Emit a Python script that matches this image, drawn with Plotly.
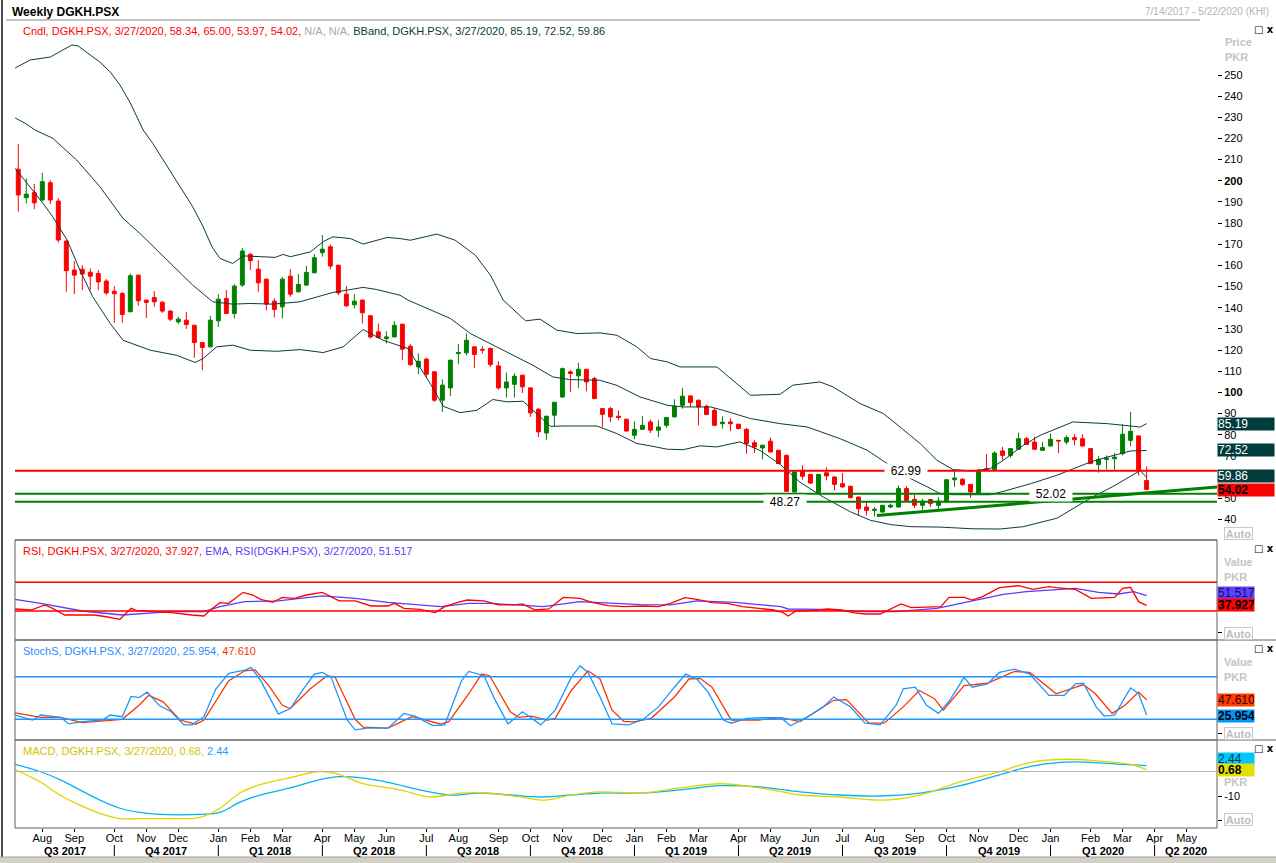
import pandas as pd
import plotly.graph_objects as go

# ------------------------------------------------------------------ data
T0 = "2017-07-14"          # first weekly bar (Friday)
SYMBOL = "DGKH.PSX"
LAST_DATE = "3/27/2020"

opens = [205.5, 192.0, 194.4, 190.9, 199.1, 190.4, 171.5, 157.8, 158.2, 156.8,
         156.2, 152.6, 147.8, 146.7, 138.1, 155.4, 143.6, 144.8, 142.6, 138.4,
         133.3, 134.1, 131.7, 123.5, 121.5, 133.8, 144.4, 137.3, 150.7, 165.2,
         158.2, 153.5, 143.1, 140.4, 154.9, 147.5, 150.7, 156.5, 166.0, 168.8,
         160.1, 146.4, 141.4, 143.6, 136.2, 128.6, 125.4, 126.2, 132.2, 121.8,
         112.0, 115.7, 109.7, 96.3, 102.1, 118.3, 118.7, 121.5, 120.3, 120.7,
         112.5, 102.1, 103.8, 108.1, 102.1, 92.0, 80.8, 89.2, 97.8, 109.7,
         107.8, 110.9, 106.5, 92.3, 92.3, 88.7, 87.3, 79.7, 82.5, 86.0,
         82.1, 84.4, 88.4, 93.9, 98.3, 96.3, 93.4, 91.5, 85.2, 86.0,
         84.9, 82.5, 76.2, 73.7, 76.9, 72.6, 70.2, 52.9, 63.1, 61.2,
         52.6, 62.0, 60.0, 56.8, 55.6, 50.5, 45.8, 44.2, 43.4, 45.8,
         45.8, 54.5, 49.4, 46.6, 49.3, 46.6, 48.2, 58.7, 58.9, 56.5,
         52.1, 63.9, 63.5, 72.3, 70.2, 73.1, 78.1, 76.5, 72.6, 74.6,
         77.3, 76.5, 78.6, 78.1, 73.4, 65.8, 68.3, 68.6, 71.0, 77.3,
         79.4, 58.34]
highs = [217.4, 201.1, 198.5, 203.8, 200.3, 191.8, 171.8, 162.0, 160.1, 158.6,
         157.8, 153.5, 150.2, 147.5, 156.2, 155.6, 143.8, 147.8, 143.1, 138.9,
         135.7, 138.1, 131.9, 123.7, 136.2, 146.4, 148.3, 151.1, 168.3, 166.0,
         162.5, 153.7, 144.4, 154.6, 158.2, 155.9, 159.8, 165.3, 174.3, 169.9,
         160.3, 150.2, 146.4, 143.8, 136.4, 132.5, 128.9, 133.6, 132.4, 122.8,
         118.4, 116.4, 109.9, 106.2, 115.4, 122.8, 127.8, 121.7, 121.8, 121.2,
         114.7, 109.4, 108.9, 108.3, 102.3, 92.6, 88.9, 95.5, 111.7, 110.5,
         113.9, 111.1, 107.3, 92.5, 93.1, 91.5, 87.5, 86.3, 88.7, 87.1,
         86.8, 88.4, 96.7, 102.1, 98.6, 96.5, 94.2, 92.6, 88.7, 87.6,
         85.2, 83.2, 77.6, 75.2, 78.6, 72.8, 70.7, 62.6, 65.5, 61.4,
         61.4, 64.4, 60.2, 61.9, 55.8, 50.7, 48.2, 45.8, 46.8, 47.4,
         56.0, 55.6, 51.6, 49.7, 49.7, 50.5, 58.9, 63.1, 59.5, 56.7,
         63.9, 70.7, 72.1, 74.2, 73.6, 81.0, 78.9, 78.9, 76.5, 80.5,
         77.5, 79.7, 80.2, 80.2, 73.6, 69.8, 70.2, 71.3, 84.9, 90.7,
         79.6, 65.00]
lows = [185.4, 189.3, 186.6, 190.5, 189.0, 170.7, 147.5, 146.4, 148.3, 148.3,
        148.3, 145.9, 132.9, 132.9, 137.8, 140.9, 135.2, 140.4, 137.6, 133.6,
        132.2, 130.0, 116.3, 110.5, 121.3, 131.0, 137.1, 134.9, 149.9, 157.8,
        147.5, 138.8, 135.4, 134.9, 145.2, 147.3, 150.5, 156.3, 164.1, 158.2,
        145.9, 140.4, 139.6, 132.5, 125.4, 125.4, 123.1, 126.0, 115.2, 112.5,
        108.6, 107.0, 95.5, 90.7, 98.3, 113.3, 117.5, 111.6, 118.3, 112.0,
        101.3, 97.5, 97.5, 99.7, 88.4, 78.9, 77.6, 84.0, 97.4, 100.2,
        102.1, 100.5, 96.7, 83.6, 86.0, 86.8, 81.5, 77.8, 82.3, 80.8,
        78.9, 83.2, 88.2, 92.3, 93.1, 84.4, 89.3, 84.2, 82.9, 81.7,
        82.4, 71.0, 71.3, 68.3, 71.6, 66.1, 53.0, 52.7, 58.7, 56.8,
        52.4, 58.4, 53.7, 54.9, 50.0, 41.8, 41.8, 41.4, 43.2, 45.3,
        45.6, 48.7, 45.3, 44.5, 45.8, 44.8, 48.0, 55.3, 55.8, 50.2,
        51.9, 63.0, 63.3, 67.9, 69.1, 72.9, 75.2, 72.9, 72.3, 74.4,
        71.3, 75.4, 75.0, 74.4, 66.1, 62.0, 63.6, 63.4, 70.2, 74.6,
        60.7, 53.97]
closes = [193.3, 193.7, 189.6, 199.6, 190.9, 172.0, 157.5, 155.4, 155.9, 154.9,
          152.2, 147.0, 146.6, 136.8, 155.1, 143.3, 142.5, 142.8, 138.4, 134.6,
          134.6, 132.1, 123.5, 121.2, 134.1, 144.0, 137.3, 150.2, 166.8, 162.2,
          151.8, 141.7, 139.2, 153.5, 146.4, 151.0, 156.7, 163.6, 167.7, 159.7,
          147.0, 140.9, 143.1, 137.6, 126.2, 125.9, 126.2, 131.7, 120.4, 113.1,
          114.7, 108.6, 96.3, 103.4, 115.2, 118.8, 124.6, 117.9, 120.0, 113.1,
          102.1, 104.9, 107.6, 102.6, 90.3, 81.3, 88.7, 95.3, 111.2, 108.9,
          110.9, 104.9, 97.1, 89.6, 88.4, 88.1, 81.7, 82.5, 84.4, 82.1,
          83.6, 88.1, 93.4, 98.2, 95.2, 93.1, 89.5, 84.4, 85.9, 85.2,
          82.9, 75.8, 74.2, 75.0, 71.8, 66.3, 53.2, 62.4, 60.3, 57.1,
          61.2, 60.5, 56.5, 55.3, 50.2, 45.0, 44.2, 44.7, 46.6, 46.6,
          54.5, 48.9, 46.6, 48.6, 47.4, 48.6, 58.7, 59.5, 56.4, 52.9,
          63.1, 63.1, 71.3, 70.2, 73.4, 78.1, 75.4, 73.1, 73.9, 77.8,
          77.0, 78.6, 77.6, 74.6, 66.3, 68.3, 69.0, 69.4, 80.2, 81.6,
          62.8, 54.02]

# Bollinger bands (week offset from T0, value)
bb_upper_weeks = [-0.4, 1.5, 4.0, 5.2, 6.7, 7.5, 9.0, 10.2, 11.5, 12.7, 14.0, 15.6, 16.8, 18.6,
                  21.8, 23.1, 24.2, 25.2, 26.8, 28.1, 32.1, 33.1, 34.0, 36.5, 38.1, 39.3, 41.5,
                  43.1, 46.1, 47.7, 49.0, 52.3, 54.6, 57.1, 59.0, 60.6, 63.4, 65.2, 67.3, 69.8,
                  72.7, 74.8, 77.3, 79.0, 81.1, 82.7, 87.3, 89.8, 91.5, 95.2, 96.8, 100.2, 101.8,
                  105.2, 108.1, 110.2, 112.7, 114.8, 116.8, 119.3, 121.5, 123.1, 125.6, 127.7,
                  131.8, 136.1, 138.6, 140.2, 141.0]
bb_upper = [253.3, 257.1, 258.5, 260.9, 264.2, 263.7, 259.5, 256.1, 251.4, 245.3, 236.8, 224.0,
            217.7, 206.7, 187.7, 178.3, 168.8, 163.3, 160.9, 164.5, 163.8, 165.2, 164.1, 166.4,
            171.2, 173.5, 172.7, 170.1, 173.2, 172.7, 171.9, 174.8, 171.9, 164.9, 155.4, 143.6,
            133.8, 134.6, 129.4, 127.8, 128.1, 127.0, 121.5, 116.0, 114.4, 112.0, 112.0, 104.1,
            98.6, 99.1, 103.4, 104.9, 102.6, 94.7, 90.0, 83.6, 75.8, 67.9, 63.5, 62.8, 64.0, 67.9,
            75.0, 79.7, 86.0, 85.2, 84.4, 83.6, 85.19]
bb_mid_weeks = [-0.4, 0.8, 2.1, 4.3, 7.3, 10.2, 13.1, 15.2, 18.6, 21.8, 24.3, 26.8, 29.0, 31.8,
                35.2, 37.3, 39.3, 41.5, 43.1, 44.8, 47.7, 48.7, 51.5, 54.0, 56.5, 59.3, 61.8,
                64.3, 66.8, 68.9, 72.7, 74.8, 77.7, 81.1, 83.1, 86.5, 88.1, 91.5, 95.2, 98.6,
                102.7, 106.1, 108.6, 111.1, 113.6, 115.2, 116.8, 121.5, 123.6, 126.5, 129.8,
                131.8, 134.0, 136.1, 139.0, 141.0]
bb_mid = [229.7, 227.3, 224.0, 220.1, 209.8, 197.2, 182.2, 175.1, 162.5, 150.7, 142.8, 141.7,
          142.0, 141.7, 142.8, 145.1, 147.2, 148.6, 149.6, 148.6, 145.9, 143.6, 138.8, 134.9,
          127.8, 122.3, 117.5, 112.8, 107.3, 106.0, 105.7, 103.3, 97.8, 93.9, 93.1, 93.1, 91.5,
          87.6, 85.2, 83.6, 78.1, 72.6, 66.3, 60.0, 55.3, 52.1, 51.6, 51.6, 53.7, 56.8, 60.8,
          63.9, 67.1, 69.4, 72.3, 72.52]
bb_lower_weeks = [-0.4, 1.8, 3.1, 4.3, 6.1, 7.7, 9.3, 11.5, 13.1, 16.5, 19.8, 22.1, 23.1, 24.8,
                  26.8, 29.0, 32.3, 35.2, 38.1, 40.6, 43.1, 45.6, 48.7, 51.5, 53.1, 55.2, 57.3,
                  59.3, 61.1, 63.1, 64.3, 66.5, 68.1, 72.3, 74.8, 77.3, 79.0, 81.1, 83.1, 85.2,
                  87.3, 90.2, 92.7, 95.2, 97.7, 100.6, 104.0, 106.5, 109.0, 111.5, 115.2, 119.3,
                  122.7, 125.6, 129.8, 134.0, 136.8, 140.2, 141.0]
bb_lower = [205.9, 195.6, 189.3, 183.0, 172.0, 157.8, 145.2, 132.5, 124.6, 119.9, 117.5, 114.1,
            116.0, 121.5, 122.3, 119.9, 119.4, 120.2, 118.8, 121.5, 129.7, 124.6, 120.7, 104.1,
            93.4, 90.4, 91.5, 96.6, 95.5, 95.8, 91.5, 83.9, 84.1, 84.1, 80.5, 75.8, 74.7, 73.1,
            72.9, 74.7, 74.2, 76.6, 72.5, 66.0, 57.5, 50.5, 43.5, 39.5, 37.5, 36.5, 36.3, 35.5,
            35.4, 36.5, 40.5, 50.0, 55.5, 63.0, 59.86]

# RSI and its EMA
rsi_weeks = [-0.4, 1.6, 3.3, 4.3, 5.8, 9.5, 11.0, 12.7, 14.1, 14.8,
             17.1, 19.1, 21.7, 23.2, 24.0, 25.2, 26.3, 28.1, 29.3, 30.3,
             31.8, 33.0, 34.5, 36.0, 38.0, 40.1, 42.1, 44.1, 46.2, 47.0,
             48.2, 50.2, 52.1, 53.3, 54.8, 56.1, 58.2, 60.0, 62.0, 63.0,
             64.6, 66.3, 68.1, 70.2, 71.7, 73.7, 75.7, 78.1, 80.0, 81.5,
             83.3, 84.8, 86.7, 88.6, 90.5, 92.5, 94.4, 95.6, 96.2, 97.2,
             99.1, 101.1, 102.9, 104.3, 105.8, 107.7, 108.7, 110.3, 111.6, 113.0,
             115.3, 116.3, 118.2, 119.2, 120.5, 122.6, 125.0, 126.8, 128.8, 129.7,
             132.1, 134.1, 137.0, 138.0, 139.0, 140.0, 141.0]
rsi = [32.8, 31.4, 38.4, 33.7, 24.4, 24.4, 22.0, 18.4, 33.7, 30.5,
       29.0, 27.7, 24.4, 23.0, 31.4, 41.6, 40.7, 56.0, 52.3, 46.3,
       42.1, 49.0, 47.7, 52.3, 56.0, 44.0, 44.0, 37.0, 37.0, 40.7,
       33.7, 32.3, 27.7, 36.0, 41.6, 45.3, 44.0, 38.4, 38.4, 39.8,
       31.4, 32.8, 49.0, 47.7, 42.1, 37.4, 36.0, 37.0, 36.0, 40.7,
       48.6, 46.3, 41.6, 40.7, 36.0, 33.7, 31.4, 27.7, 23.0, 30.0,
       30.5, 32.8, 31.4, 27.7, 25.8, 25.8, 31.4, 39.8, 34.7, 35.1,
       36.0, 49.0, 49.0, 45.3, 50.0, 62.6, 65.3, 60.2, 64.0, 62.6,
       60.2, 47.7, 49.0, 61.6, 63.0, 43.0, 37.927]
rsi_ema_weeks = [-0.4, 2.8, 8.0, 13.0, 19.1, 23.2, 25.2, 28.3, 32.5, 38.0, 42.1, 46.2, 52.8,
                 56.3, 59.0, 65.6, 70.2, 75.2, 77.7, 81.5, 84.8, 89.6, 95.3, 96.2, 100.1, 105.8,
                 109.7, 114.8, 117.8, 123.1, 126.0, 132.1, 135.0, 137.5, 139.4, 141.0]
rsi_ema = [46.3, 40.7, 30.0, 24.4, 29.0, 29.0, 36.0, 43.0, 44.0, 51.0, 47.7, 42.1, 36.0, 40.7,
           40.7, 36.0, 43.0, 40.7, 39.0, 38.4, 44.0, 42.1, 36.0, 32.8, 32.3, 29.0, 29.0, 33.7,
           40.7, 53.3, 57.0, 61.6, 56.0, 53.7, 57.0, 51.517]

# Slow stochastic
stoch_k_weeks = [-0.4, 1.8, 2.8, 5.3, 6.3, 8.0, 10.5, 11.5, 13.0, 14.1,
                 15.1, 16.1, 17.6, 19.1, 20.7, 21.7, 23.2, 24.7, 26.3, 28.3,
                 29.1, 30.3, 32.5, 34.0, 35.5, 37.0, 38.0, 39.1, 41.1, 42.1,
                 43.6, 46.2, 48.2, 49.7, 51.8, 53.3, 55.4, 56.3, 58.2, 59.5,
                 61.2, 63.0, 65.3, 67.1, 69.1, 70.2, 71.2, 72.7, 74.2, 76.3,
                 78.1, 80.0, 82.0, 83.4, 84.8, 86.2, 88.1, 89.1, 91.0, 92.9,
                 95.3, 96.5, 98.7, 100.6, 101.9, 104.0, 105.8, 107.7, 109.7, 110.6,
                 112.1, 113.5, 115.0, 116.4, 118.2, 119.2, 121.1, 122.6, 124.5, 126.4,
                 128.8, 130.7, 132.1, 133.1, 134.7, 135.7, 137.0, 139.0, 140.0, 141.0]
stoch_k = [26.0, 19.0, 26.0, 22.8, 13.5, 16.8, 19.0, 26.0, 23.7, 52.3,
           50.5, 58.3, 39.8, 30.6, 12.2, 12.2, 23.7, 62.9, 84.6, 89.2,
           92.9, 74.5, 27.4, 35.2, 60.6, 83.7, 86.0, 79.1, 19.0, 5.2,
           7.5, 7.5, 28.3, 23.7, 11.2, 12.2, 74.5, 87.4, 81.4, 49.1,
           13.5, 30.6, 12.2, 32.9, 79.1, 95.2, 86.0, 51.4, 13.5, 12.2,
           20.0, 37.5, 65.2, 83.7, 76.8, 58.3, 19.0, 14.5, 21.4, 22.3,
           22.3, 10.8, 23.7, 37.5, 51.4, 37.5, 14.5, 12.2, 39.8, 62.9,
           65.2, 39.8, 28.3, 46.8, 79.1, 65.2, 69.8, 86.0, 90.6, 83.7,
           53.7, 53.7, 69.8, 70.8, 37.5, 24.6, 26.0, 64.3, 56.0, 25.954]
stoch_d_weeks = [-0.4, 2.8, 5.3, 8.0, 13.0, 15.1, 16.3, 18.1, 20.2, 22.2,
                 23.2, 26.3, 28.3, 29.6, 31.3, 33.0, 34.0, 36.5, 38.6, 39.6,
                 42.1, 43.1, 46.2, 49.2, 50.2, 52.8, 53.8, 56.3, 57.9, 58.9,
                 61.5, 62.5, 64.1, 66.1, 67.1, 69.1, 71.2, 72.7, 74.2, 75.7,
                 77.1, 79.1, 82.0, 83.8, 85.2, 86.7, 89.1, 92.5, 95.3, 97.7,
                 101.9, 103.5, 106.3, 108.2, 110.6, 112.6, 114.5, 115.6, 118.2, 121.1,
                 124.5, 126.4, 129.7, 133.1, 134.6, 136.7, 138.3, 140.0, 141.0]
stoch_d = [29.2, 22.8, 22.8, 15.4, 20.0, 39.8, 53.7, 44.5, 19.0, 13.1,
           19.0, 74.5, 88.3, 89.7, 67.5, 39.8, 35.2, 62.9, 81.4, 79.1,
           20.0, 8.9, 7.5, 23.7, 21.4, 13.1, 16.8, 56.0, 83.7, 81.4,
           30.6, 22.8, 24.6, 19.0, 21.4, 60.6, 88.3, 76.8, 32.9, 16.8,
           16.8, 21.4, 51.4, 76.8, 77.7, 65.2, 19.0, 19.0, 22.3, 16.8,
           46.8, 47.7, 14.5, 14.5, 37.5, 60.6, 49.1, 32.9, 67.5, 70.8,
           87.4, 86.0, 56.0, 68.9, 56.0, 28.3, 39.8, 58.3, 47.61]

# MACD and signal
macd_weeks = [-0.4, 2.7, 5.2, 7.7, 10.2, 12.7, 15.2, 19.0, 22.7, 25.2, 27.7, 30.2, 34.0, 37.7,
              40.2, 42.7, 47.7, 51.5, 55.2, 59.0, 62.7, 65.8, 69.0, 72.7, 77.7, 82.7, 87.7, 92.7,
              97.7, 102.7, 107.7, 112.7, 117.7, 122.7, 126.5, 131.5, 135.2, 139.0, 141.0]
macd = [0.8, -4.2, -9.6, -13.75, -17.1, -19.2, -19.2, -19.2, -18.75, -15.0, -8.75, -5.4, -2.5,
        0.0, -1.25, -4.6, -7.5, -10.4, -8.8, -8.8, -10.4, -11.7, -9.6, -8.3, -8.8, -6.7, -5.0,
        -6.7, -9.6, -10.4, -11.7, -9.6, -4.2, 0.0, 3.75, 5.0, 4.2, 2.9, 0.68]
signal_weeks = [-0.4, 2.7, 5.2, 7.7, 10.2, 12.7, 15.2, 17.7, 22.7, 25.2, 27.7, 30.2, 34.0, 37.7,
                40.2, 42.7, 46.5, 50.2, 54.0, 57.7, 61.5, 65.2, 69.0, 72.7, 77.7, 82.7, 87.7,
                92.7, 97.7, 102.7, 107.7, 112.7, 117.7, 122.7, 126.5, 130.2, 134.0, 137.7, 141.0]
signal = [2.9, 0.0, -3.3, -7.5, -11.7, -15.0, -16.7, -17.5, -17.5, -16.7, -12.5, -9.6, -6.7,
          -3.3, -2.1, -2.5, -4.6, -7.5, -9.6, -8.8, -9.6, -10.4, -9.6, -8.8, -8.8, -7.5, -5.8,
          -6.3, -8.3, -9.6, -10.0, -8.8, -5.8, -1.3, 2.1, 3.75, 3.75, 2.9, 2.44]

# drawn price levels and trendline
price_levels = [62.99, 52.02, 48.27]
trend_weeks = [107.3, 149.8]
trend_values = [41.8, 55.2]
rsi_levels = [70, 30]
stoch_levels = [80, 20]

# ------------------------------------------------------------------ helpers
W, H = 1276, 863
FONT = "Liberation Sans"
start = pd.Timestamp(T0)


def at_weeks(ws):
    return [start + pd.Timedelta(days=7.0 * w) for w in ws]


bar_dates = [start + pd.Timedelta(days=7 * i) for i in range(len(closes))]
x_lo = start + pd.Timedelta(days=7 * -0.41)
x_hi = start + pd.Timedelta(days=7 * 149.8)


def px(x):
    return x / W


def py(y):
    return 1 - y / H


X0, X1 = 15, 1217
BB_C = "#0b3b3b"
UP_C, DN_C = "#008000", "#ff0000"
RSI_C, EMA_C = "#ff0000", "#5a3cff"
K_C, D_C = "#1e96ff", "#ff3300"
MACD_C, SIG_C = "#e0d400", "#00b4f0"

fig = go.Figure()

fig.add_trace(go.Candlestick(
    x=bar_dates, open=opens, high=highs, low=lows, close=closes,
    increasing=dict(line=dict(color=UP_C, width=1), fillcolor=UP_C),
    decreasing=dict(line=dict(color=DN_C, width=1), fillcolor=DN_C),
    whiskerwidth=0, xaxis="x", yaxis="y", hoverinfo="skip"))

for ws, vs in [(bb_upper_weeks, bb_upper), (bb_mid_weeks, bb_mid), (bb_lower_weeks, bb_lower)]:
    fig.add_trace(go.Scatter(x=at_weeks(ws), y=vs, mode="lines",
                             line=dict(color=BB_C, width=1), xaxis="x", yaxis="y",
                             hoverinfo="skip"))

fig.add_trace(go.Scatter(x=at_weeks(trend_weeks), y=trend_values, mode="lines",
                         line=dict(color="#008000", width=3), xaxis="x", yaxis="y",
                         hoverinfo="skip"))

fig.add_trace(go.Scatter(x=at_weeks(rsi_ema_weeks), y=rsi_ema, mode="lines",
                         line=dict(color=EMA_C, width=1.3), xaxis="x", yaxis="y2"))
fig.add_trace(go.Scatter(x=at_weeks(rsi_weeks), y=rsi, mode="lines",
                         line=dict(color=RSI_C, width=1.3), xaxis="x", yaxis="y2"))

fig.add_trace(go.Scatter(x=at_weeks(stoch_d_weeks), y=stoch_d, mode="lines",
                         line=dict(color=D_C, width=1.3), xaxis="x", yaxis="y3"))
fig.add_trace(go.Scatter(x=at_weeks(stoch_k_weeks), y=stoch_k, mode="lines",
                         line=dict(color=K_C, width=1.3), xaxis="x", yaxis="y3"))

fig.add_trace(go.Scatter(x=at_weeks(signal_weeks), y=signal, mode="lines",
                         line=dict(color=SIG_C, width=1.3, shape="spline"), xaxis="x", yaxis="y4"))
fig.add_trace(go.Scatter(x=at_weeks(macd_weeks), y=macd, mode="lines",
                         line=dict(color=MACD_C, width=1.3, shape="spline"), xaxis="x", yaxis="y4"))

# x-axis ticks: first weekly bar of each month, quarter separators
fridays = pd.date_range(start, x_hi, freq="W-FRI")
month_ticks = [d for d in fridays if d.day <= 7]
month_text = [d.strftime("%b") for d in month_ticks]
q_starts = [d for d in month_ticks if d.month in (1, 4, 7, 10)]

axis_font = dict(family=FONT, size=11, color="#000000")
common_y = dict(side="right", anchor="x", showgrid=False, zeroline=False, showline=False,
                ticks="outside", ticklen=4, tickcolor="#000000", tickfont=axis_font,
                fixedrange=True)

main_ticks = list(range(30, 251, 10))
main_text = ["" if v in (30, 60) else ("<b>%d</b>" % v if v in (100, 200) else str(v))
             for v in main_ticks]

fig.update_layout(
    width=W, height=H, margin=dict(l=0, r=0, t=0, b=0),
    paper_bgcolor="white", plot_bgcolor="white", showlegend=False,
    font=dict(family=FONT),
    xaxis=dict(domain=[px(X0), px(X1)], anchor="y4", type="date",
               range=[x_lo, x_hi], rangeslider=dict(visible=False),
               tickvals=month_ticks, ticktext=month_text, ticks="outside", ticklen=3,
               tickcolor="#000000", tickfont=axis_font, showgrid=False, zeroline=False,
               showline=False, fixedrange=True, ticklabelstandoff=-3),
    yaxis=dict(domain=[py(540), py(20)], range=[30.2, 276.0],
               tickvals=main_ticks, ticktext=main_text, **common_y),
    yaxis2=dict(domain=[py(640), py(540)], range=[-10.42, 128.95],
                tickvals=[0], ticktext=[""], **common_y),
    yaxis3=dict(domain=[py(740), py(640)], range=[-9.15, 131.7],
                tickvals=[0], ticktext=[""], **common_y),
    yaxis4=dict(domain=[py(828), py(740)], range=[-23.06, 12.86],
                tickvals=[-20, -10], ticktext=["", "-10"], **common_y),
)

shapes = []


def pline(x0, y0, x1, y1, color, width=1):
    shapes.append(dict(type="line", xref="paper", yref="paper", x0=px(x0), x1=px(x1),
                       y0=py(y0), y1=py(y1), line=dict(color=color, width=width)))


# frames
pline(6, 20, 1200, 20, "#8a8a8a")
pline(2, 0, 2, 858, "#505050", 2)
pline(X0, 540, X1, 540, "#606060")
for top, bot in [(540, 640), (640, 740), (740, 828)]:
    shapes.append(dict(type="rect", xref="paper", yref="paper", x0=px(X0), x1=px(X1),
                       y0=py(bot), y1=py(top), line=dict(color="#606060", width=1)))
pline(X1, 640, W, 640, "#606060")
pline(X1, 740, W, 740, "#606060")
shapes.append(dict(type="rect", xref="paper", yref="paper", x0=0, x1=1, y0=0, y1=py(857),
                   fillcolor="#d4d0c8", line=dict(width=0)))
pline(0, 857, W, 857, "#a0a0a0")

# indicator reference lines
for v in rsi_levels:
    shapes.append(dict(type="line", xref="paper", yref="y2", x0=px(X0), x1=px(X1), y0=v, y1=v,
                       line=dict(color="#ff0000", width=1.5)))
for v in stoch_levels:
    shapes.append(dict(type="line", xref="paper", yref="y3", x0=px(X0), x1=px(X1), y0=v, y1=v,
                       line=dict(color="#1e96ff", width=1.5)))
shapes.append(dict(type="line", xref="paper", yref="y4", x0=px(X0), x1=px(X1), y0=0, y1=0,
                   line=dict(color="#b4b4b4", width=1)))

# price levels
level_colors = ["#ff0000", "#008000", "#008000"]
for v, c in zip(price_levels, level_colors):
    shapes.append(dict(type="line", xref="paper", yref="y", x0=px(X0), x1=px(X1), y0=v, y1=v,
                       line=dict(color=c, width=2)))

# quarter separators
for d in q_starts:
    shapes.append(dict(type="line", xref="x", yref="paper", x0=d, x1=d, y0=py(856), y1=py(845),
                       line=dict(color="#000000", width=1)))

fig.update_layout(shapes=shapes)

ann = []


def text_px(x, y, text, size=11, color="#000000", anchor="left", bold=False, family=FONT):
    if bold:
        text = "<b>" + text + "</b>"
    ann.append(dict(xref="paper", yref="paper", x=px(x), y=py(y), text=text, showarrow=False,
                    xanchor=anchor, yanchor="middle", font=dict(family=family, size=size, color=color)))


def span(t, c):
    return '<span style="color:%s">%s</span>' % (c, t)


text_px(10, 12, "Weekly " + SYMBOL, size=12, bold=True)
text_px(1271, 12, "%s - %s (KHI)" % ("7/14/2017", "5/22/2020"), size=10, color="#b4b4b4", anchor="right")

hdr = (span("Cndl, %s, %s, %.2f, %.2f, %.2f, %.2f, " % (SYMBOL, LAST_DATE, opens[-1], highs[-1], lows[-1], closes[-1]), "#ff0000")
       + span("N/A, N/A, ", "#a8a8a8")
       + span("BBand, %s, %s, %.2f, %.2f, %.2f" % (SYMBOL, LAST_DATE, bb_upper[-1], bb_mid[-1], bb_lower[-1]), BB_C))
text_px(21, 31, hdr)
text_px(21, 551, span("RSI, %s, %s, %.3f, " % (SYMBOL, LAST_DATE, rsi[-1]), "#ff0000")
        + span("EMA, RSI(%s), %s, %.3f" % (SYMBOL, LAST_DATE, rsi_ema[-1]), EMA_C))
text_px(21, 651, span("StochS, %s, %s, %.3f, " % (SYMBOL, LAST_DATE, stoch_k[-1]), "#2a8cff")
        + span("%.3f" % stoch_d[-1], "#ff3300"))
text_px(21, 751, span("MACD, %s, %s, %.2f, " % (SYMBOL, LAST_DATE, macd[-1]), "#d0c400")
        + span("%.2f" % signal[-1], "#1ea0ff"))

# right side captions
GREY = "#c4c4c4"
text_px(1223, 42, "Price", size=11, color=GREY, bold=True)
text_px(1223, 57, "PKR", size=11, color=GREY, bold=True)
for y0 in (562, 662):
    text_px(1222, y0, "Value", size=11, color=GREY, bold=True)
    text_px(1222, y0 + 15, "PKR", size=11, color=GREY, bold=True)
text_px(1222, 782, "PKR", size=11, color=GREY, bold=True)
for yc in (533, 633.5, 733.5, 819.5):
    ann.append(dict(xref="paper", yref="paper", x=px(1224), y=py(yc), text="<b>Auto</b>",
                    showarrow=False, xanchor="left", yanchor="middle",
                    font=dict(family=FONT, size=11, color="#bdbdbd"),
                    bordercolor="#c8c8c8", borderwidth=1, borderpad=0, width=27, height=11))
for yc in (29, 548, 648, 748):
    text_px(1252, yc, "□ <b>x</b>", size=10, color="#000000", family="DejaVu Sans")

# level labels
level_label_weeks = [110.9, 129.0, 95.8]
for v, w in zip(price_levels, level_label_weeks):
    ann.append(dict(xref="x", yref="y", x=at_weeks([w])[0], y=v, text="%.2f" % v,
                    showarrow=False, bgcolor="white", width=40, height=12,
                    font=dict(family=FONT, size=12, color="#000000")))


# value tags on right axes
def tag(yref, v, text, bg, fg, bold=False, w=36, yshift=0):
    t = "<b>%s</b>" % text if bold else text
    ann.append(dict(xref="paper", yref=yref, x=px(X1), y=v, xanchor="left", yanchor="middle",
                    text=t, showarrow=False, bgcolor=bg, width=w, height=12, align="left",
                    borderpad=0, yshift=yshift,
                    font=dict(family=FONT, size=12, color=fg)))


tag("y", bb_upper[-1], "%.2f" % bb_upper[-1], "#003c3c", "#ffffff", w=56)
tag("y", bb_mid[-1], "%.2f" % bb_mid[-1], "#003c3c", "#ffffff", w=56)
tag("y", bb_lower[-1], "%.2f" % bb_lower[-1], "#003c3c", "#ffffff", w=56, yshift=1)
tag("y", closes[-1], "%.2f" % closes[-1], "#ff0000", "#000000", bold=True, w=56)
tag("y2", rsi_ema[-1], "%.3f" % rsi_ema[-1], "#6040ff", "#10105a", yshift=3)
tag("y2", rsi[-1], "%.3f" % rsi[-1], "#ff0000", "#000000", bold=True)
tag("y3", stoch_d[-1], "%.3f" % stoch_d[-1], "#ff3c00", "#300000")
tag("y3", stoch_k[-1], "%.3f" % stoch_k[-1], "#0096ff", "#000000", bold=True, yshift=-1)
tag("y4", signal[-1], "%.2f" % signal[-1], "#00c8ff", "#003050", yshift=7)
tag("y4", macd[-1], "%.2f" % macd[-1], "#e4e000", "#000000", bold=True)

# quarter labels
bounds = [x_lo] + q_starts + [x_hi]
for a, b in zip(bounds[:-1], bounds[1:]):
    mid = a + (b - a) / 2
    ann.append(dict(xref="x", yref="paper", x=mid, y=py(851), text="<b>Q%d %d</b>" % (a.quarter, a.year),
                    showarrow=False, xanchor="center", yanchor="middle",
                    font=dict(family=FONT, size=11, color="#000000")))

fig.update_layout(annotations=ann)

fig.write_html("out.html", config={"displayModeBar": False},
               post_script="document.body.style.margin='0';document.body.style.overflow='hidden';")
